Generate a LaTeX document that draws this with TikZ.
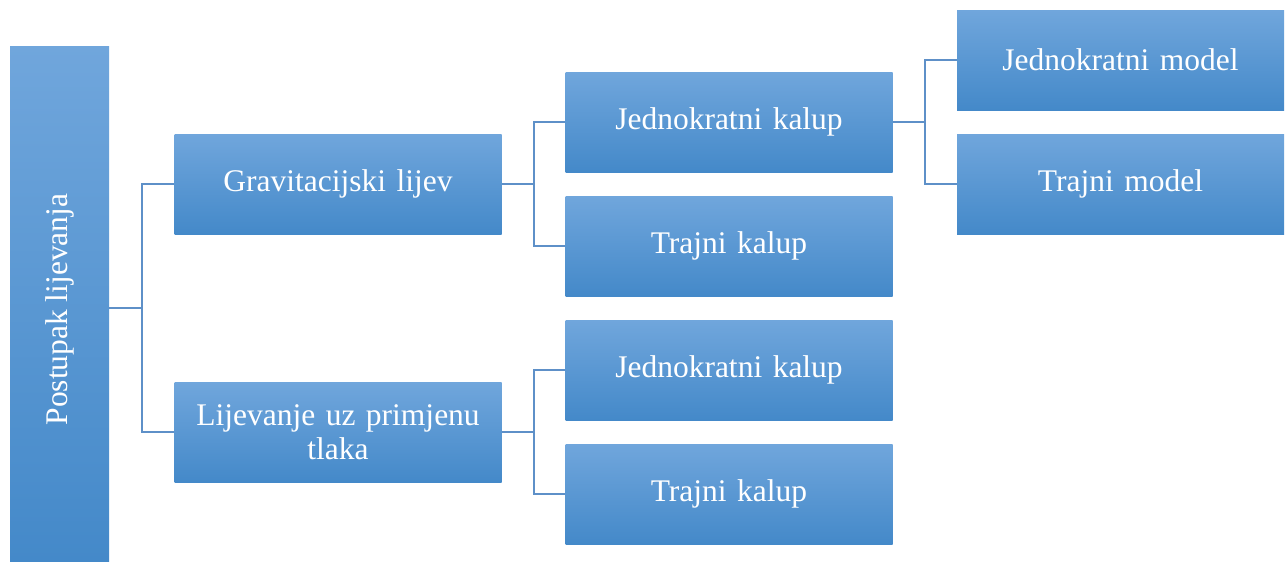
\documentclass[tikz,border=0pt]{standalone}
\usepackage{fontspec}
\setmainfont{Liberation Serif}
\usetikzlibrary{positioning}
\definecolor{boxtop}{RGB}{112,166,220}
\definecolor{boxmid}{RGB}{84,155,219}
\definecolor{boxbot}{RGB}{68,137,201}
\definecolor{linecol}{RGB}{94,144,200}
\begin{document}
\begin{tikzpicture}[x=1pt,y=-1pt,
  box/.style={rectangle, inner sep=0pt, minimum width=327pt, minimum height=100pt,
    top color=boxtop, middle color=boxmid, bottom color=boxbot,
    text=white, font=\fontsize{31.5}{34}\selectfont, align=center, text width=310pt},
  conn/.style={draw=linecol, line width=1.1pt}]
\useasboundingbox (0,0) rectangle (1285,562);

% root
\node [box, minimum width=99pt, minimum height=515pt, text width=] (root) at (59.5,303.5) {\rotatebox{90}{Postupak lijevanja\hspace*{12pt}}};

% first level
\node [box] (grav) at (338,184) {Gravitacijski lijev};
\node [box] (tlak) at (338,432) {Lijevanje uz primjenu\\tlaka};

% second level
\node [box] (gjed) at (729,122) {Jednokratni kalup};
\node [box] (gtra) at (729,246) {Trajni kalup};
\node [box] (tjed) at (729,370) {Jednokratni kalup};
\node [box] (ttra) at (729,494) {Trajni kalup};

% third level
\node [box] (mjed) at (1120.5,60) {Jednokratni model};
\node [box] (mtra) at (1120.5,184) {Trajni model};

% junctions
\coordinate (j0) at (142,308);
\coordinate (j1) at (534,184);
\coordinate (j2) at (534,432);
\coordinate (j3) at (925,122);

\draw [conn] (root.east |- j0) -- (j0);
\draw [conn] (j0) |- (grav.west);
\draw [conn] (j0) |- (tlak.west);

\draw [conn] (grav.east) -- (j1);
\draw [conn] (j1) |- (gjed.west);
\draw [conn] (j1) |- (gtra.west);

\draw [conn] (tlak.east) -- (j2);
\draw [conn] (j2) |- (tjed.west);
\draw [conn] (j2) |- (ttra.west);

\draw [conn] (gjed.east) -- (j3);
\draw [conn] (j3) |- (mjed.west);
\draw [conn] (j3) |- (mtra.west);

\end{tikzpicture}
\end{document}
